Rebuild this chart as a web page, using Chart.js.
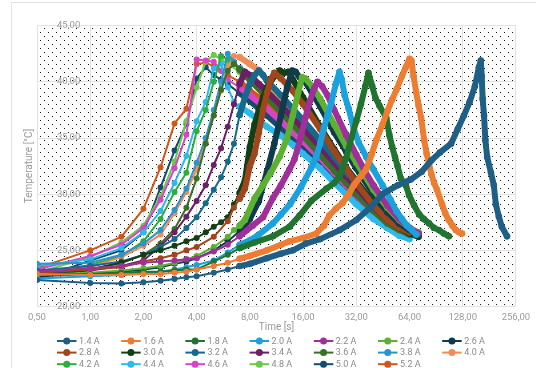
<!DOCTYPE html>
<html>
<head>
<meta charset="utf-8">
<script src="https://cdn.jsdelivr.net/npm/chart.js@4.4.1/dist/chart.umd.min.js"></script>
<style>
  html, body { margin:0; padding:0; background:#fff; overflow:hidden; width:536px; height:368px; }
  #frame { position:absolute; left:11px; top:2px; width:600px; height:420px; border:1px solid #e2e2e2; box-sizing:border-box; }
  #c { position:absolute; left:0; top:0; }
</style>
</head>
<body>
<div id="frame"></div>
<canvas id="c" width="536" height="368"></canvas>
<script>
// ---- data: [time in s, temperature in °C] ----
const s14 = [[0.5,22.35],[1,22.1],[1.5,22.05],[2,22.15],[2.5,22.3],[3,22.45],[3.5,22.6],[4,22.7],[5,23.0],[6,23.3],[7,23.6],[8,23.8],[10,24.3],[12,24.7],[14,25.0],[16.6,25.6],[20,26.0],[25.8,26.8],[32,27.7],[39,28.9],[45,30.0],[55,30.8],[65,31.3],[75,32.0],[85,33.0],[95,33.7],[110,34.5],[120,35.8],[130,37.0],[140,38.2],[150,39.6],[158,41.3],[162,41.9],[164,40.5],[166,38.5],[169,37.0],[172,34.8],[176,33.3],[185,31.9],[192,30.8],[197,29.1],[205,28.0],[213,27.1],[228,26.25]];
const s16 = [[0.5,22.9],[1,22.8],[1.5,22.8],[2,22.9],[2.5,22.9],[3,23.0],[3.5,23.1],[4,23.3],[5,23.6],[6,23.9],[7,24.25],[8,24.5],[10,25.0],[12,25.5],[13.4,25.8],[16,26.1],[19,26.5],[21,27.2],[22.5,28.1],[24.5,28.7],[26.7,29.2],[29,30.0],[31,30.8],[34,31.6],[36.4,32.2],[39,33.5],[41.5,34.8],[45,36.2],[48,37.4],[51,38.4],[54,39.3],[58,40.5],[61,41.3],[64,42.05],[65.6,41.9],[67.5,40.5],[69.8,39.1],[72,37.9],[74.5,36.8],[77.5,34.8],[80,33.6],[82.6,32.7],[85,31.8],[88.1,31.0],[91.6,30.4],[97.8,29.1],[102,28.3],[106.7,27.7],[112,27.2],[117,26.8],[122,26.6],[127,26.5]];
const s18 = [[0.5,22.9],[1,22.9],[1.5,23.0],[2,23.1],[2.5,23.1],[3,23.2],[3.5,23.3],[4,23.3],[5,24.0],[6,24.6],[7,25.2],[8.5,25.7],[10.8,26.25],[13.4,27.1],[15.3,28.1],[17.8,29.4],[21.7,30.5],[24,31.0],[25.8,31.6],[28,33.2],[30,35.0],[32,36.5],[34,38.0],[36,39.6],[37.5,40.8],[39.4,39.6],[41,38.6],[43.2,37.9],[47.3,36.8],[49.2,35.3],[51.1,34.2],[53,33.3],[54.8,32.5],[57.2,31.4],[61,30.8],[63.7,29.9],[68,29.0],[72.6,28.2],[77,27.8],[82.6,27.4],[88,27.0],[94,26.8],[100,26.5],[107,26.25]];
const s20 = [[0.5,22.5],[1,22.7],[1.5,22.8],[2,23.0],[2.5,23.1],[3,23.3],[3.5,23.5],[4,23.7],[5,24.1],[6,24.8],[7,25.5],[8,25.9],[9,26.4],[10.8,27.4],[12,28.2],[13.5,29.1],[15.6,30.65],[17.8,32.35],[19,33.35],[20,34.5],[21,35.9],[22,37.0],[23,38.0],[24.5,39.8],[25.7,40.9],[26.5,40.2],[27.5,38.8],[29,37.6],[31,35.8],[33,34.6],[36.5,33.3],[40,32.2],[45,30.8],[50,29.5],[54,28.5],[58,27.8],[62,27.2],[66,26.8],[70,26.4]];
const s22 = [[0.5,23.1],[1,23.4],[1.5,23.6],[2,23.9],[2.5,24.0],[3,24.1],[3.5,24.2],[4,24.3],[5,24.9],[6,25.5],[7,26.25],[8.3,27.2],[9.5,27.95],[10.8,29.65],[12,30.8],[13.4,32.2],[14.3,33.1],[15.5,35.0],[16.5,36.8],[17.5,38.3],[18.5,39.4],[19.3,40.0],[20.5,39.6],[22,38.8],[24,37.5],[28,35.3],[32,33.5],[36,32.0],[40,30.8],[48,29.0],[56,27.8],[64,27.0],[72,26.5]];
const s24 = [[0.5,22.8],[1,23.0],[1.5,23.2],[2,23.4],[2.5,23.6],[3,23.9],[3.5,24.2],[4,24.5],[5,25.3],[6,26.2],[6.5,26.8],[7,27.2],[7.5,27.7],[8.5,29.6],[9.5,30.8],[10.5,31.9],[11.8,33.35],[13,35.0],[14,37.0],[15,39.0],[15.8,40.4],[16.5,40.3],[18,39.6],[20,38.5],[24,36.2],[28,34.3],[32,32.8],[40,30.4],[48,28.8],[56,27.7],[64,27.0],[72,26.6]];
const s26 = [[0.5,22.7],[1,22.9],[1.5,23.1],[2,23.3],[2.5,23.5],[3,23.8],[3.5,24.0],[4,24.3],[5,25.0],[6,25.8],[7,26.7],[8,27.8],[9,29.4],[9.5,30.8],[10,32.0],[11,34.5],[12,37.0],[13,39.5],[13.9,41.0],[14.5,40.9],[15.3,40.4],[16,40.3],[18,39.0],[20,37.8],[24,35.5],[28,33.8],[32,32.3],[40,30.0],[48,28.4],[56,27.4],[64,26.8],[72,26.4]];
const s28 = [[0.5,23.0],[1,23.3],[1.5,23.5],[2,24.0],[2.5,24.3],[3,24.6],[3.5,25.0],[4,25.3],[5,26.2],[6,27.6],[6.5,28.8],[7,29.6],[7.5,30.5],[8,32.5],[8.5,33.6],[9,35.5],[9.5,37.5],[10,39.0],[10.5,40.2],[11,40.8],[12,40.3],[14,39.2],[16,38.0],[20,35.8],[24,33.8],[28,32.3],[32,31.0],[40,29.0],[48,27.7],[56,27.0],[64,26.6]];
const s30 = [[0.5,22.6],[1,23.3],[1.5,23.9],[2,24.6],[2.5,25.0],[3,25.4],[3.5,25.8],[4,26.1],[4.5,26.6],[5,27.1],[5.5,27.5],[6,27.95],[6.5,29.1],[7,30.1],[7.5,31.2],[8,34.2],[8.5,36.2],[9,37.5],[9.5,38.6],[10,39.5],[11,40.5],[11.8,41.0],[12.5,40.8],[13.2,40.9],[14,40.2],[16,38.6],[20,36.0],[24,34.0],[28,32.4],[32,31.2],[40,29.2],[48,27.8],[56,27.0],[64,26.5],[72,26.2]];
const s32 = [[0.5,23.2],[1,23.6],[1.5,24.0],[2,24.6],[2.5,25.3],[3,26.0],[3.5,27.0],[4,27.95],[4.5,29.2],[5,30.4],[5.5,31.5],[6,32.9],[6.5,34.5],[7,37.05],[7.5,38.6],[8,39.8],[8.5,40.6],[9,41.0],[9.5,40.6],[10,40.1],[12,38.8],[14,37.6],[16,36.6],[20,34.8],[24,33.3],[28,32.0],[32,31.0],[40,29.2],[48,27.9],[56,27.1],[64,26.6]];
const s34 = [[0.5,22.9],[1,23.2],[1.5,23.6],[2,24.1],[2.5,25.4],[3,26.6],[3.5,28.0],[4,29.4],[4.5,30.8],[5,32.6],[5.5,34.1],[6,36.0],[6.5,38.0],[7,39.8],[7.5,40.9],[8,40.6],[9,39.8],[10,39.1],[12,37.9],[14,36.8],[16,35.9],[20,34.2],[24,32.8],[28,31.6],[32,30.6],[40,28.9],[48,27.7],[56,27.0],[64,26.6]];
const s36 = [[0.5,22.8],[1,23.3],[1.5,23.9],[2,24.6],[2.5,25.6],[3,26.9],[3.5,28.8],[4,31.4],[4.5,34.5],[5,37.0],[5.5,39.3],[6,41.0],[6.5,41.6],[7,41.1],[8,40.2],[10,38.6],[12,37.3],[14,36.2],[16,35.2],[20,33.5],[24,32.1],[28,31.0],[32,30.0],[40,28.5],[48,27.4],[56,26.8],[64,26.4]];
const s38 = [[0.5,23.8],[1,23.9],[1.5,24.6],[2,25.6],[2.5,26.8],[3,28.6],[3.5,30.5],[4,32.8],[4.5,35.0],[5,37.5],[5.5,40.0],[6,42.5],[6.5,41.8],[7,41.2],[8,40.2],[10,38.7],[12,37.4],[14,36.2],[16,35.2],[20,33.6],[24,32.2],[28,31.1],[32,30.2],[40,28.7],[48,27.6],[56,26.9],[62,26.5]];
const s40 = [[0.5,23.1],[1,23.5],[1.5,24.4],[2,25.4],[2.5,26.4],[3,28.3],[3.5,30.2],[4,32.2],[4.5,34.6],[5,37.0],[5.5,39.2],[6,41.3],[6.5,42.3],[7,42.2],[8,41.6],[9,41.0],[10,40.1],[12,38.6],[14,37.2],[16,36.0],[20,34.0],[24,32.5],[28,31.2],[32,30.2],[40,28.6],[48,27.5],[56,26.9],[60,26.7]];
const s42 = [[0.5,22.9],[1,23.7],[1.5,24.5],[2,25.8],[2.5,27.8],[3,30.2],[3.5,31.9],[4,35.6],[4.5,37.5],[5,40.0],[5.5,42.3],[6,42.0],[7,41.2],[8,40.5],[10,39.2],[12,38.0],[14,36.9],[16,36.0],[20,34.3],[24,32.9],[28,31.7],[32,30.7],[40,29.0],[48,27.8],[56,27.0],[64,26.6],[70,26.4]];
const s44 = [[0.5,23.6],[1,24.2],[1.5,25.2],[2,26.6],[2.5,28.5],[3,31.0],[3.5,33.4],[4,36.5],[4.5,38.2],[5,41.2],[5.5,41.6],[6,39.5],[6.5,38.2],[7,37.8],[8,37.2],[10,36.0],[12,35.2],[14,34.4],[16,33.6],[20,32.3],[24,31.0],[28,30.0],[32,29.1],[40,27.8],[48,27.0],[56,26.3],[64,26.0]];
const s46 = [[0.5,23.3],[1,24.5],[1.5,25.5],[2,27.0],[2.5,29.5],[3,32.3],[3.5,35.3],[4,42.0],[4.5,41.9],[5,41.8],[5.5,41.0],[6,40.2],[7,39.5],[8,38.8],[10,37.6],[12,36.5],[14,35.5],[16,34.7],[20,33.2],[24,31.9],[28,30.8],[32,29.9],[40,28.4],[48,27.3],[56,26.7],[64,26.4]];
const s48 = [[0.5,23.0],[1,24.4],[1.5,25.7],[2,27.2],[2.5,29.8],[3,32.9],[3.5,36.5],[4,39.5],[4.5,41.8],[5,42.4],[5.5,42.0],[6,41.6],[7,40.9],[8,40.2],[10,38.9],[12,37.7],[14,36.6],[16,35.7],[20,34.0],[24,32.7],[28,31.5],[32,30.5],[40,28.9],[48,27.7],[56,27.0],[64,26.6]];
const s50 = [[0.5,22.4],[1,24.1],[1.5,25.0],[2,26.6],[2.5,30.6],[3,33.9],[3.5,36.25],[4,40.3],[4.5,41.3],[5,40.6],[5.5,40.2],[6,39.8],[7,39.0],[8,38.3],[10,37.0],[12,35.9],[14,35.0],[16,34.2],[20,32.7],[24,31.5],[28,30.4],[32,29.5],[40,28.0],[48,27.0],[56,26.5],[62,26.2]];
const s52 = [[0.5,23.4],[1,25.0],[1.5,26.2],[2,28.7],[2.5,32.4],[3,36.3],[3.5,37.6],[4,41.6],[4.5,41.7],[5,41.4],[5.5,41.0],[6,40.6],[7,40.0],[8,39.2],[9,38.6],[10,38.0],[12,36.8],[14,35.8],[16,35.0],[20,33.5],[24,32.2],[28,31.1],[32,30.2],[40,28.6],[48,27.5],[56,26.9],[60,26.7]];

const seriesLabels = ['1.4 A','1.6 A','1.8 A','2.0 A','2.2 A','2.4 A','2.6 A','2.8 A','3.0 A','3.2 A','3.4 A','3.6 A','3.8 A','4.0 A','4.2 A','4.4 A','4.6 A','4.8 A','5.0 A','5.2 A'];
const seriesData = [s14,s16,s18,s20,s22,s24,s26,s28,s30,s32,s34,s36,s38,s40,s42,s44,s46,s48,s50,s52];
const seriesColors = ['#1F5F86','#ED7D31','#21742F','#1BA1DE','#A02F9A','#5CB133','#0F3B4C','#A0461C','#123F16','#16698A','#6B1F66','#3B6E27','#2A95CC','#F28B55','#2DAE3E','#2EB9EE','#D744C8','#6CC94A','#154C6D','#D0561A'];
const xTicks = [0.5,1,2,4,8,16,32,64,128,256];
const yMin = 20, yMax = 45, yStep = 5;

// ---- helpers ----
const fmt = v => Number(v).toFixed(2).replace('.', ',');

const dotPattern = (() => {
  const p = document.createElement('canvas');
  p.width = 8; p.height = 8;
  const g = p.getContext('2d');
  g.fillStyle = '#111';
  g.fillRect(0, 0, 1, 1);
  g.fillRect(4, 4, 1, 1);
  return p;
})();

const bgPlugin = {
  id: 'dots',
  beforeDraw(chart) {
    const {ctx, chartArea: a} = chart;
    ctx.save();
    ctx.fillStyle = ctx.createPattern(dotPattern, 'repeat');
    ctx.fillRect(a.left, a.top, a.right - a.left, a.bottom - a.top);
    ctx.restore();
  }
};

// legend: 7 columns, line + dot symbol, drawn below the x axis
const legendPlugin = {
  id: 'gridLegend',
  afterDraw(chart) {
    const ctx = chart.ctx;
    const x0 = 57, y0 = 341, colW = 64.2, rowH = 11.6, perRow = 7;
    ctx.save();
    ctx.font = '9px Roboto';
    ctx.textBaseline = 'middle';
    ctx.textAlign = 'left';
    chart.data.datasets.forEach((ds, i) => {
      const x = x0 + (i % perRow) * colW;
      const y = y0 + Math.floor(i / perRow) * rowH;
      ctx.strokeStyle = ds.borderColor;
      ctx.lineWidth = 2;
      ctx.beginPath(); ctx.moveTo(x, y); ctx.lineTo(x + 19.5, y); ctx.stroke();
      ctx.fillStyle = ds.borderColor;
      ctx.beginPath(); ctx.arc(x + 9.75, y, 3.5, 0, Math.PI * 2); ctx.fill();
      ctx.fillStyle = '#8a8a8a';
      ctx.fillText(ds.label, x + 22, y + 0.5);
    });
    ctx.restore();
  }
};

const datasets = seriesData.map((s, i) => ({
  label: seriesLabels[i],
  data: s.map(p => ({x: p[0], y: p[1]})),
  borderColor: seriesColors[i],
  backgroundColor: seriesColors[i],
  pointBackgroundColor: seriesColors[i],
  pointBorderWidth: 0,
  pointRadius: ctx => (ctx.raw && ctx.raw.x >= 7 ? 3.3 : 3),
  borderWidth: 2,
  borderJoinStyle: 'round',
  borderCapStyle: 'round',
  tension: 0,
  fill: false,
  segment: { borderWidth: ctx => (ctx.p0.parsed.x >= 7 ? 6 : 2) }
}));

new Chart(document.getElementById('c'), {
  type: 'line',
  data: { datasets },
  plugins: [bgPlugin, legendPlugin],
  options: {
    responsive: false,
    animation: false,
    devicePixelRatio: 1,
    layout: { padding: { left: 17, right: 19, top: 13.5, bottom: 34 } },
    plugins: {
      tooltip: { enabled: false },
      legend: { display: false }
    },
    scales: {
      x: {
        type: 'logarithmic',
        min: xTicks[0],
        max: xTicks[xTicks.length - 1],
        afterBuildTicks: axis => { axis.ticks = xTicks.map(v => ({value: v})); },
        afterFit: axis => { axis.height = 27.5; },
        grid: { color: '#e2e2e2', drawTicks: false },
        border: { color: '#e2e2e2' },
        ticks: {
          autoSkip: false, maxRotation: 0, padding: 5.8,
          color: '#9a9a9a', font: { family: 'Roboto', size: 9.5 },
          callback: v => fmt(v)
        },
        title: {
          display: true, text: 'Time [s]', color: '#999',
          font: { family: 'Roboto', size: 10 },
          padding: { top: 0, bottom: 0.5 }
        }
      },
      y: {
        min: yMin, max: yMax,
        afterFit: axis => { axis.width = 20; },
        grid: { color: '#e2e2e2', drawTicks: false },
        border: { color: '#e2e2e2' },
        ticks: {
          stepSize: yStep, mirror: true, padding: 20,
          color: '#9a9a9a', font: { family: 'Roboto', size: 9.5 },
          callback: v => fmt(v)
        },
        title: {
          display: true, text: 'Temperature [°C]', color: '#999',
          font: { family: 'Roboto', size: 10 },
          padding: { top: 6, bottom: 2 }
        }
      }
    }
  }
});
</script>
</body>
</html>
